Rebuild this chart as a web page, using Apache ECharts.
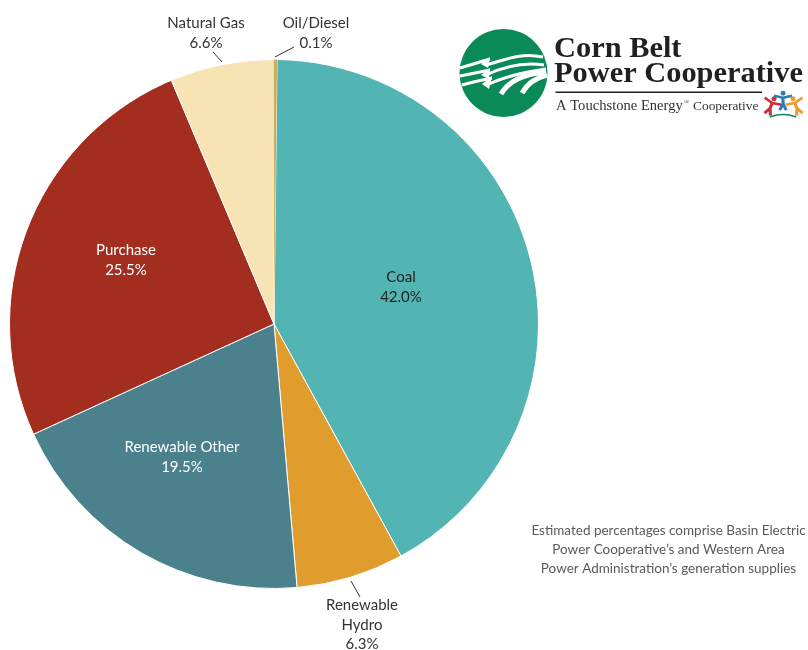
<!DOCTYPE html>
<html><head><meta charset="utf-8">
<style>html,body{margin:0;padding:0;background:#fff}#c{width:808px;height:650px}</style>
<script src="https://cdn.jsdelivr.net/npm/echarts@6/dist/echarts.min.js"></script>
</head><body><div id="c"></div>
<script>
const categories = ['Coal','Renewable\nHydro','Renewable Other','Purchase','Natural Gas','Oil/Diesel'];
const printedShares = ['42.0%','6.3%','19.5%','25.5%','6.6%','0.1%'];
const drawnShares = [41.85, 6.58, 19.55, 25.5, 6.32, 0.2];
const sliceColors = ['#53b5b3','#e09c2c','#4a818d','#a32e20','#f8e3b4','#c8ad5c'];
const labelColors = ['#222','#333','#fff','#fff','#333','#333'];
const footnoteLines = ['Estimated percentages comprise Basin Electric','Power Cooperative\u2019s and Western Area','Power Administration\u2019s generation supplies'];
const FONT = 'Lato, "Open Sans", sans-serif';
const labelPos = [[401,287],[362,625],[182,457],[126,260],[206,33],[316,33]];
const leaders = [[[360,597],[351,581]],[[213,52],[222,62]],[[294,47],[275,57]]];
const chart = echarts.init(document.getElementById('c'),null,{renderer:'canvas'});
const swoosh = (x1,y1,cx1,cy1,cx2,cy2,x2,y2,w)=>({type:'bezierCurve',z:11,
  shape:{x1,y1,x2,y2,cpx1:cx1,cpy1:cy1,cpx2:cx2,cpy2:cy2},style:{fill:'none',stroke:'#fff',lineWidth:w}});
const person=(cx,cy,c,rot)=>({type:'group',x:cx,y:cy,rotation:rot,scaleX:1.3,scaleY:1.3,z:11,children:[
  {type:'circle',z:11,shape:{cx:0,cy:-6,r:1.9},style:{fill:c}},
  {type:'polyline',z:11,shape:{points:[[-7,-4],[0,-2.5],[7,-4]]},style:{stroke:c,lineWidth:2,fill:'none'}},
  {type:'polyline',z:11,shape:{points:[[0,-3],[0,2],[-2.5,7]]},style:{stroke:c,lineWidth:2.4,fill:'none'}},
  {type:'polyline',z:11,shape:{points:[[0,2],[2.5,7]]},style:{stroke:c,lineWidth:2.4,fill:'none'}}
]});
chart.setOption({
  animation:false,
  backgroundColor:'#fff',
  series:[{
    type:'pie',
    center:[274,324],radius:[0,264.5],
    startAngle:89.35,clockwise:true,
    avoidLabelOverlap:false,
    itemStyle:{borderColor:'#fff',borderWidth:1},
    label:{show:true,position:'inside',fontFamily:FONT,fontSize:15,lineHeight:19.5,
      formatter:p=>p.name+'\n'+printedShares[p.dataIndex]},
    labelLine:{show:false},
    labelLayout:p=>({x:labelPos[p.dataIndex][0],y:labelPos[p.dataIndex][1],align:'center',verticalAlign:'middle'}),
    data:categories.map((n,i)=>({name:n,value:drawnShares[i],
      itemStyle:{color:sliceColors[i],borderWidth:i===5?0:1},
      label:{color:labelColors[i]}}))
  }],
  graphic:[
    ...leaders.map(l=>({type:'line',z:5,shape:{x1:l[0][0],y1:l[0][1],x2:l[1][0],y2:l[1][1]},style:{stroke:'#333',lineWidth:1}})),
    {type:'circle',shape:{cx:503.5,cy:73,r:44},style:{fill:'#0a8a58'},z:10},
    swoosh(460,68,470,65,480,62,490,59,3),
    swoosh(486,65,505,60,520,52,543,57,3),
    swoosh(460,76,470,74,480,72,490,70,3),
    swoosh(486,75,505,66,525,62,544,65,3),
    swoosh(462,85,472,82,482,80,492,78,3),
    swoosh(487,85,505,76,525,72,546,69,3),
    swoosh(501,94,508,82,522,74,546,72,5),
    swoosh(522,93,527,84,535,78,547,75,5),
    {type:'polygon',z:11,shape:{points:[[490,57],[488,68],[481,64]]},style:{fill:'#fff'}},
    {type:'polygon',z:11,shape:{points:[[490,68],[489,79],[481,75]]},style:{fill:'#fff'}},
    {type:'polygon',z:11,shape:{points:[[492,76],[489,89],[482,84]]},style:{fill:'#fff'}},
    {type:'text',x:554,y:49.5,z:11,style:{text:'Corn Belt',font:'bold 30.4px "Liberation Serif"',fill:'#231f20',textVerticalAlign:'middle'}},
    {type:'text',x:554,y:74,z:11,style:{text:'Power Cooperative',font:'bold 30.4px "Liberation Serif"',fill:'#231f20',textVerticalAlign:'middle'}},
    {type:'rect',z:11,shape:{x:555.5,y:91.5,width:206.5,height:1.4},style:{fill:'#231f20'}},
    {type:'text',x:556,y:106,z:11,style:{text:'A Touchstone Energy',font:'14.6px "Liberation Serif"',fill:'#333',textVerticalAlign:'middle'}},
    {type:'text',x:684,y:102,z:11,style:{text:'\u00AE',font:'7px "Liberation Serif"',fill:'#333',textVerticalAlign:'middle'}},
    {type:'text',x:693,y:106,z:11,style:{text:'Cooperative',font:'13.4px "Liberation Serif"',fill:'#333',textVerticalAlign:'middle'}},
    person(771,106,'#c8323c',-0.4),person(783,101,'#2a7fb8',0),person(796,106,'#ef9a2e',0.4),
    {type:'bezierCurve',z:11,shape:{x1:770,y1:117,cpx1:778,cpy1:114,cpx2:788,cpy2:114,x2:796,y2:117},style:{fill:'none',stroke:'#0a8a58',lineWidth:1.5}},
    ...footnoteLines.map((t,i)=>({type:'text',x:668.5,y:531+i*19,z:5,style:{text:t,font:'13.5px '+FONT,fill:'#5a5a5a',textAlign:'center',textVerticalAlign:'middle'}}))
  ]
});
</script></body></html>
